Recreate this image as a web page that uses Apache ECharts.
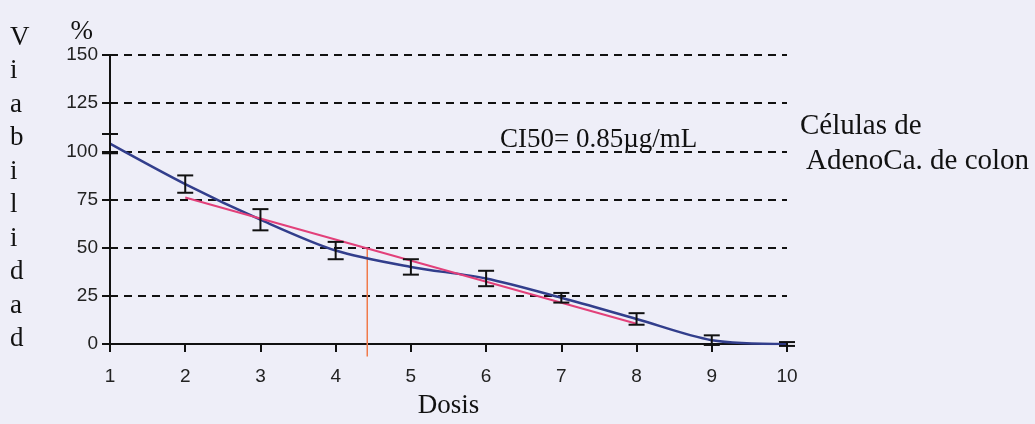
<!DOCTYPE html>
<html>
<head>
<meta charset="utf-8">
<script src="https://cdn.jsdelivr.net/npm/echarts@6/dist/echarts.min.js"></script>
<style>
  html, body { margin: 0; padding: 0; background: #eeeef8; }
  #main { width: 1035px; height: 424px; }
</style>
</head>
<body>
<div id="main"></div>
<script>
// dose (x) and viability % (y)
var doses = [1, 2, 3, 4, 5, 6, 7, 8, 9, 10];
var viability = [104, 83, 64.5, 48.5, 40, 34, 24, 13, 2, 0];
var errors = [5, 4.5, 5.5, 4.5, 4, 4, 2.5, 3, 2.5, 1];

// linear fit drawn in red (from dose 2 to 8)
var fitLine = [[2, 76], [8, 10.5]];
// CI50 drop line
var ic50Line = [[4.42, 50], [4.42, -6.5]];

var serif = '"Liberation Serif", "Times New Roman", serif';
var sans = '"Liberation Sans", Arial, sans-serif';

var myChart = echarts.init(document.getElementById('main'));

var meanData = doses.map(function (d, i) { return [d, viability[i]]; });
var errData = doses.map(function (d, i) { return [d, viability[i] - errors[i], viability[i] + errors[i]]; });

function renderErrorBar(params, api) {
    var x = api.value(0);
    var lo = api.coord([x, api.value(1)]);
    var hi = api.coord([x, api.value(2)]);
    var half = 8;
    var style = { stroke: '#111', lineWidth: 2 };
    return {
        type: 'group',
        children: [
            { type: 'line', shape: { x1: lo[0], y1: lo[1], x2: hi[0], y2: hi[1] }, style: style },
            { type: 'line', shape: { x1: lo[0] - half, y1: lo[1], x2: lo[0] + half, y2: lo[1] }, style: style },
            { type: 'line', shape: { x1: hi[0] - half, y1: hi[1], x2: hi[0] + half, y2: hi[1] }, style: style }
        ]
    };
}

var option = {
    backgroundColor: '#eeeef8',
    animation: false,
    grid: { left: 110, right: 248, top: 55, bottom: 80, containLabel: false, outerBoundsMode: 'none' },
    xAxis: {
        type: 'value',
        min: 1,
        max: 10,
        interval: 1,
        name: 'Dosis',
        nameLocation: 'middle',
        nameGap: 48,
        nameTextStyle: { fontFamily: serif, fontSize: 27, color: '#111' },
        axisLine: { onZero: false, lineStyle: { color: '#111', width: 2 } },
        axisTick: { length: 8, lineStyle: { color: '#111', width: 2 } },
        axisLabel: { fontFamily: sans, fontSize: 19, color: '#222', margin: 23 },
        splitLine: { show: false }
    },
    yAxis: [{
        type: 'value',
        min: 0,
        max: 150,
        interval: 25,
        name: '%',
        nameLocation: 'end',
        nameGap: 10,
        nameTextStyle: { fontFamily: serif, fontSize: 27, color: '#111', align: 'right', padding: [0, 17, 0, 0] },
        axisLine: { show: true, lineStyle: { color: '#111', width: 2 } },
        axisTick: { length: 8, lineStyle: { color: '#111', width: 2 } },
        axisLabel: { fontFamily: sans, fontSize: 19, color: '#222', margin: 12 },
        splitLine: {
            show: true,
            lineStyle: { color: '#111', width: 2, type: [8, 6] }
        }
    }, {
        type: 'value',
        min: 0,
        max: 150,
        interval: 25,
        position: 'left',
        offset: 0,
        axisLine: { show: false },
        axisTick: { inside: true, length: 8, lineStyle: { color: '#111', width: 2 } },
        axisLabel: { show: false },
        splitLine: { show: false }
    }],
    graphic: [
        {
            type: 'text',
            left: 10,
            top: 21,
            style: {
                text: 'V\ni\na\nb\ni\nl\ni\nd\na\nd',
                font: '27px ' + serif,
                fill: '#111',
                lineHeight: 33.5,
                align: 'center',
                width: 26
            }
        },
        {
            type: 'text',
            left: 500,
            top: 126,
            style: { text: 'CI50= 0.85\u00b5g/mL', font: '27px ' + serif, fill: '#111' }
        },
        {
            type: 'text',
            left: 800,
            top: 112,
            style: { text: 'Células de', font: '29px ' + serif, fill: '#111' }
        },
        {
            type: 'text',
            left: 806,
            top: 147,
            style: { text: 'AdenoCa. de colon', font: '29px ' + serif, fill: '#111' }
        }
    ],
    series: [
        {
            name: 'curva',
            type: 'line',
            data: meanData,
            smooth: 0.3,
            symbol: 'none',
            lineStyle: { color: '#323e8c', width: 2.5 },
            z: 3
        },
        {
            name: 'ajuste',
            type: 'line',
            data: fitLine,
            symbol: 'none',
            lineStyle: { color: '#e2407a', width: 2 },
            z: 4
        },
        {
            name: 'CI50',
            type: 'line',
            data: ic50Line,
            symbol: 'none',
            clip: false,
            lineStyle: { color: '#f07a4a', width: 1.5 },
            z: 2
        },
        {
            name: 'error',
            type: 'custom',
            renderItem: renderErrorBar,
            data: errData,
            clip: false,
            z: 5
        }
    ]
};

myChart.setOption(option);
</script>
</body>
</html>
